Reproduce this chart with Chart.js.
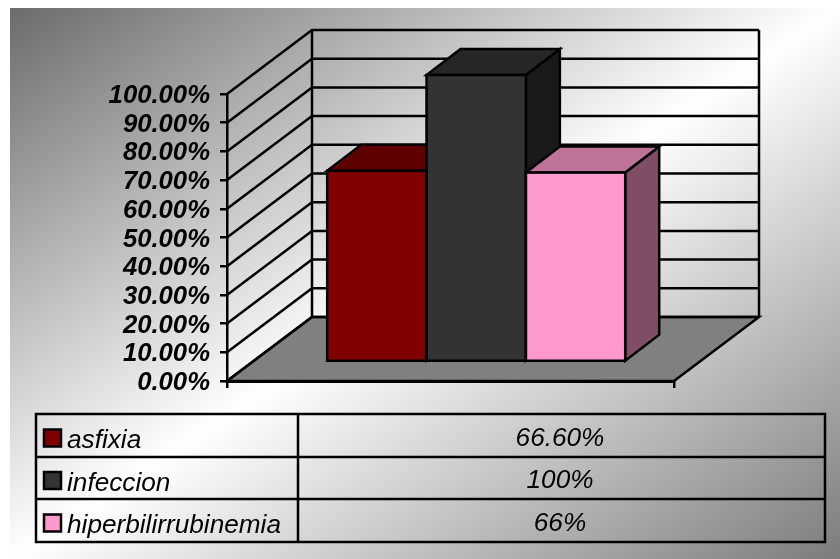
<!DOCTYPE html>
<html>
<head>
<meta charset="utf-8">
<title>asfixia, infeccion, hiperbilirrubinemia</title>
<script src="https://cdn.jsdelivr.net/npm/chart.js@4"></script>
<style>
  html, body { margin: 0; padding: 0; background: #fff; }
  canvas { display: block; }
</style>
</head>
<body>
<canvas id="chart" width="840" height="559"></canvas>
<script>
const categories = [''];
const seriesNames = ['asfixia', 'infeccion', 'hiperbilirrubinemia'];
const seriesValues = [66.6, 100, 66];
const tableLabels = ['66.60%', '100%', '66%'];
const frontColors = ['#800000', '#333333', '#ff99cc'];
const topColors = ['#5f0000', '#262626', '#bf7399'];
const sideColors = ['#400000', '#1a1a1a', '#804d66'];
const FONT = '"Liberation Sans", Arial, sans-serif';
const LINE = 2.5;

// Projection offsets of the box: the full floor depth and the depth of one bar.
const wallDepth = { x: 85, y: -64 };
const barPlane = { x: 25.7, y: -19 };
const barDepth = { x: 34, y: -26 };

function poly(ctx, pts, fill) {
  ctx.beginPath();
  pts.forEach((p, i) => (i ? ctx.lineTo(p[0], p[1]) : ctx.moveTo(p[0], p[1])));
  ctx.closePath();
  if (fill) { ctx.fillStyle = fill; ctx.fill(); }
  ctx.stroke();
}

function barBox(chart, i) {
  const el = chart.getDatasetMeta(i).data[0];
  const left = el.x - el.width / 2 + barPlane.x;
  const right = el.x + el.width / 2 + barPlane.x;
  const top = el.y + barPlane.y;
  const bottom = el.base + barPlane.y;
  return { left, right, top, bottom };
}

const scene3d = {
  id: 'scene3d',
  // Page gradient, floor and the two walls with their gridlines.
  beforeDraw(chart) {
    const { ctx, chartArea: a, scales: { y } } = chart;
    ctx.save();
    const g = ctx.createLinearGradient(171, -98, 679, 665);
    g.addColorStop(0, '#6c6c6c');
    g.addColorStop(0.5, '#ffffff');
    g.addColorStop(1, '#7c7c7c');
    ctx.fillStyle = g;
    ctx.fillRect(10, 8, 830, 551);

    ctx.strokeStyle = '#000';
    ctx.lineWidth = LINE;
    ctx.lineJoin = 'miter';
    const d = wallDepth;
    poly(ctx, [[a.left, a.bottom], [a.right, a.bottom],
      [a.right + d.x, a.bottom + d.y], [a.left + d.x, a.bottom + d.y]], '#808080');

    y.ticks.forEach(t => {
      const py = y.getPixelForValue(t.value);
      ctx.beginPath();
      ctx.moveTo(a.left, py);
      ctx.lineTo(a.left + d.x, py + d.y);
      ctx.lineTo(a.right + d.x, py + d.y);
      ctx.stroke();
    });
    ctx.beginPath();
    ctx.moveTo(a.left + d.x, a.top + d.y);
    ctx.lineTo(a.left + d.x, a.bottom + d.y);
    ctx.moveTo(a.right + d.x, a.top + d.y);
    ctx.lineTo(a.right + d.x, a.bottom + d.y);
    ctx.stroke();
    ctx.restore();
  },
  // Side and top faces go first, left to right, so that fronts can cover them.
  beforeDatasetsDraw(chart) {
    const { ctx } = chart;
    ctx.save();
    ctx.strokeStyle = '#000';
    ctx.lineWidth = LINE;
    const e = barDepth;
    seriesValues.forEach((_, i) => {
      const b = barBox(chart, i);
      poly(ctx, [[b.right, b.top], [b.right, b.bottom],
        [b.right + e.x, b.bottom + e.y], [b.right + e.x, b.top + e.y]], sideColors[i]);
      poly(ctx, [[b.left, b.top], [b.right, b.top],
        [b.right + e.x, b.top + e.y], [b.left + e.x, b.top + e.y]], topColors[i]);
    });
    ctx.restore();
    ctx.save();
    ctx.translate(barPlane.x, barPlane.y);
  },
  // Outlines of the front faces, then the data table below the chart.
  afterDatasetsDraw(chart) {
    const { ctx } = chart;
    ctx.restore();
    ctx.save();
    ctx.strokeStyle = '#000';
    ctx.lineWidth = LINE;
    seriesValues.forEach((_, i) => {
      const b = barBox(chart, i);
      ctx.strokeRect(b.left, b.top, b.right - b.left, b.bottom - b.top);
    });
    ctx.restore();
    drawTable(ctx);
  }
};

function drawTable(ctx) {
  const left = 36, right = 825, split = 298;
  const rows = [414, 457, 499, 542];
  ctx.save();
  ctx.strokeStyle = '#000';
  ctx.lineWidth = LINE;
  ctx.strokeRect(left, rows[0], right - left, rows[3] - rows[0]);
  ctx.beginPath();
  ctx.moveTo(split, rows[0]); ctx.lineTo(split, rows[3]);
  ctx.moveTo(left, rows[1]); ctx.lineTo(right, rows[1]);
  ctx.moveTo(left, rows[2]); ctx.lineTo(right, rows[2]);
  ctx.stroke();
  ctx.font = 'italic 26.2px ' + FONT;
  ctx.textBaseline = 'alphabetic';
  seriesNames.forEach((name, i) => {
    const mid = (rows[i] + rows[i + 1]) / 2;
    ctx.fillStyle = frontColors[i];
    ctx.fillRect(44, mid - 6, 17, 17);
    ctx.strokeRect(44, mid - 6, 17, 17);
    ctx.fillStyle = '#000';
    ctx.textAlign = 'left';
    ctx.fillText(name, 67, mid + 12.5);
    ctx.textAlign = 'center';
    ctx.fillText(tableLabels[i], 560, mid + 10);
  });
  ctx.restore();
}

new Chart(document.getElementById('chart'), {
  type: 'bar',
  data: {
    labels: categories,
    datasets: seriesNames.map((name, i) => ({
      label: name,
      data: [seriesValues[i]],
      backgroundColor: frontColors[i],
      borderWidth: 0
    }))
  },
  plugins: [scene3d],
  options: {
    responsive: false,
    animation: false,
    devicePixelRatio: 1,
    categoryPercentage: 2 / 3,
    barPercentage: 1,
    layout: { padding: { left: 0, right: 166, top: 94, bottom: 178 } },
    plugins: { legend: { display: false }, title: { display: false }, tooltip: { enabled: false } },
    scales: {
      x: {
        afterFit(scale) { scale.height = 0; },
        ticks: { display: false },
        border: { color: '#000', width: 3 },
        grid: { drawOnChartArea: false, color: '#000', lineWidth: 2.5, tickLength: 7 }
      },
      y: {
        min: 0,
        max: 100,
        afterFit(scale) { scale.width = 227; },
        border: { color: '#000', width: 2.5 },
        grid: { drawOnChartArea: false, color: '#000', lineWidth: 2.5, tickLength: 7 },
        ticks: {
          stepSize: 10,
          autoSkip: false,
          padding: 10,
          labelOffset: 2,
          color: '#000',
          font: { family: FONT, size: 25.7, style: 'italic', weight: 'bold' },
          callback: v => v.toFixed(2) + '%'
        }
      }
    }
  }
});
</script>
</body>
</html>
